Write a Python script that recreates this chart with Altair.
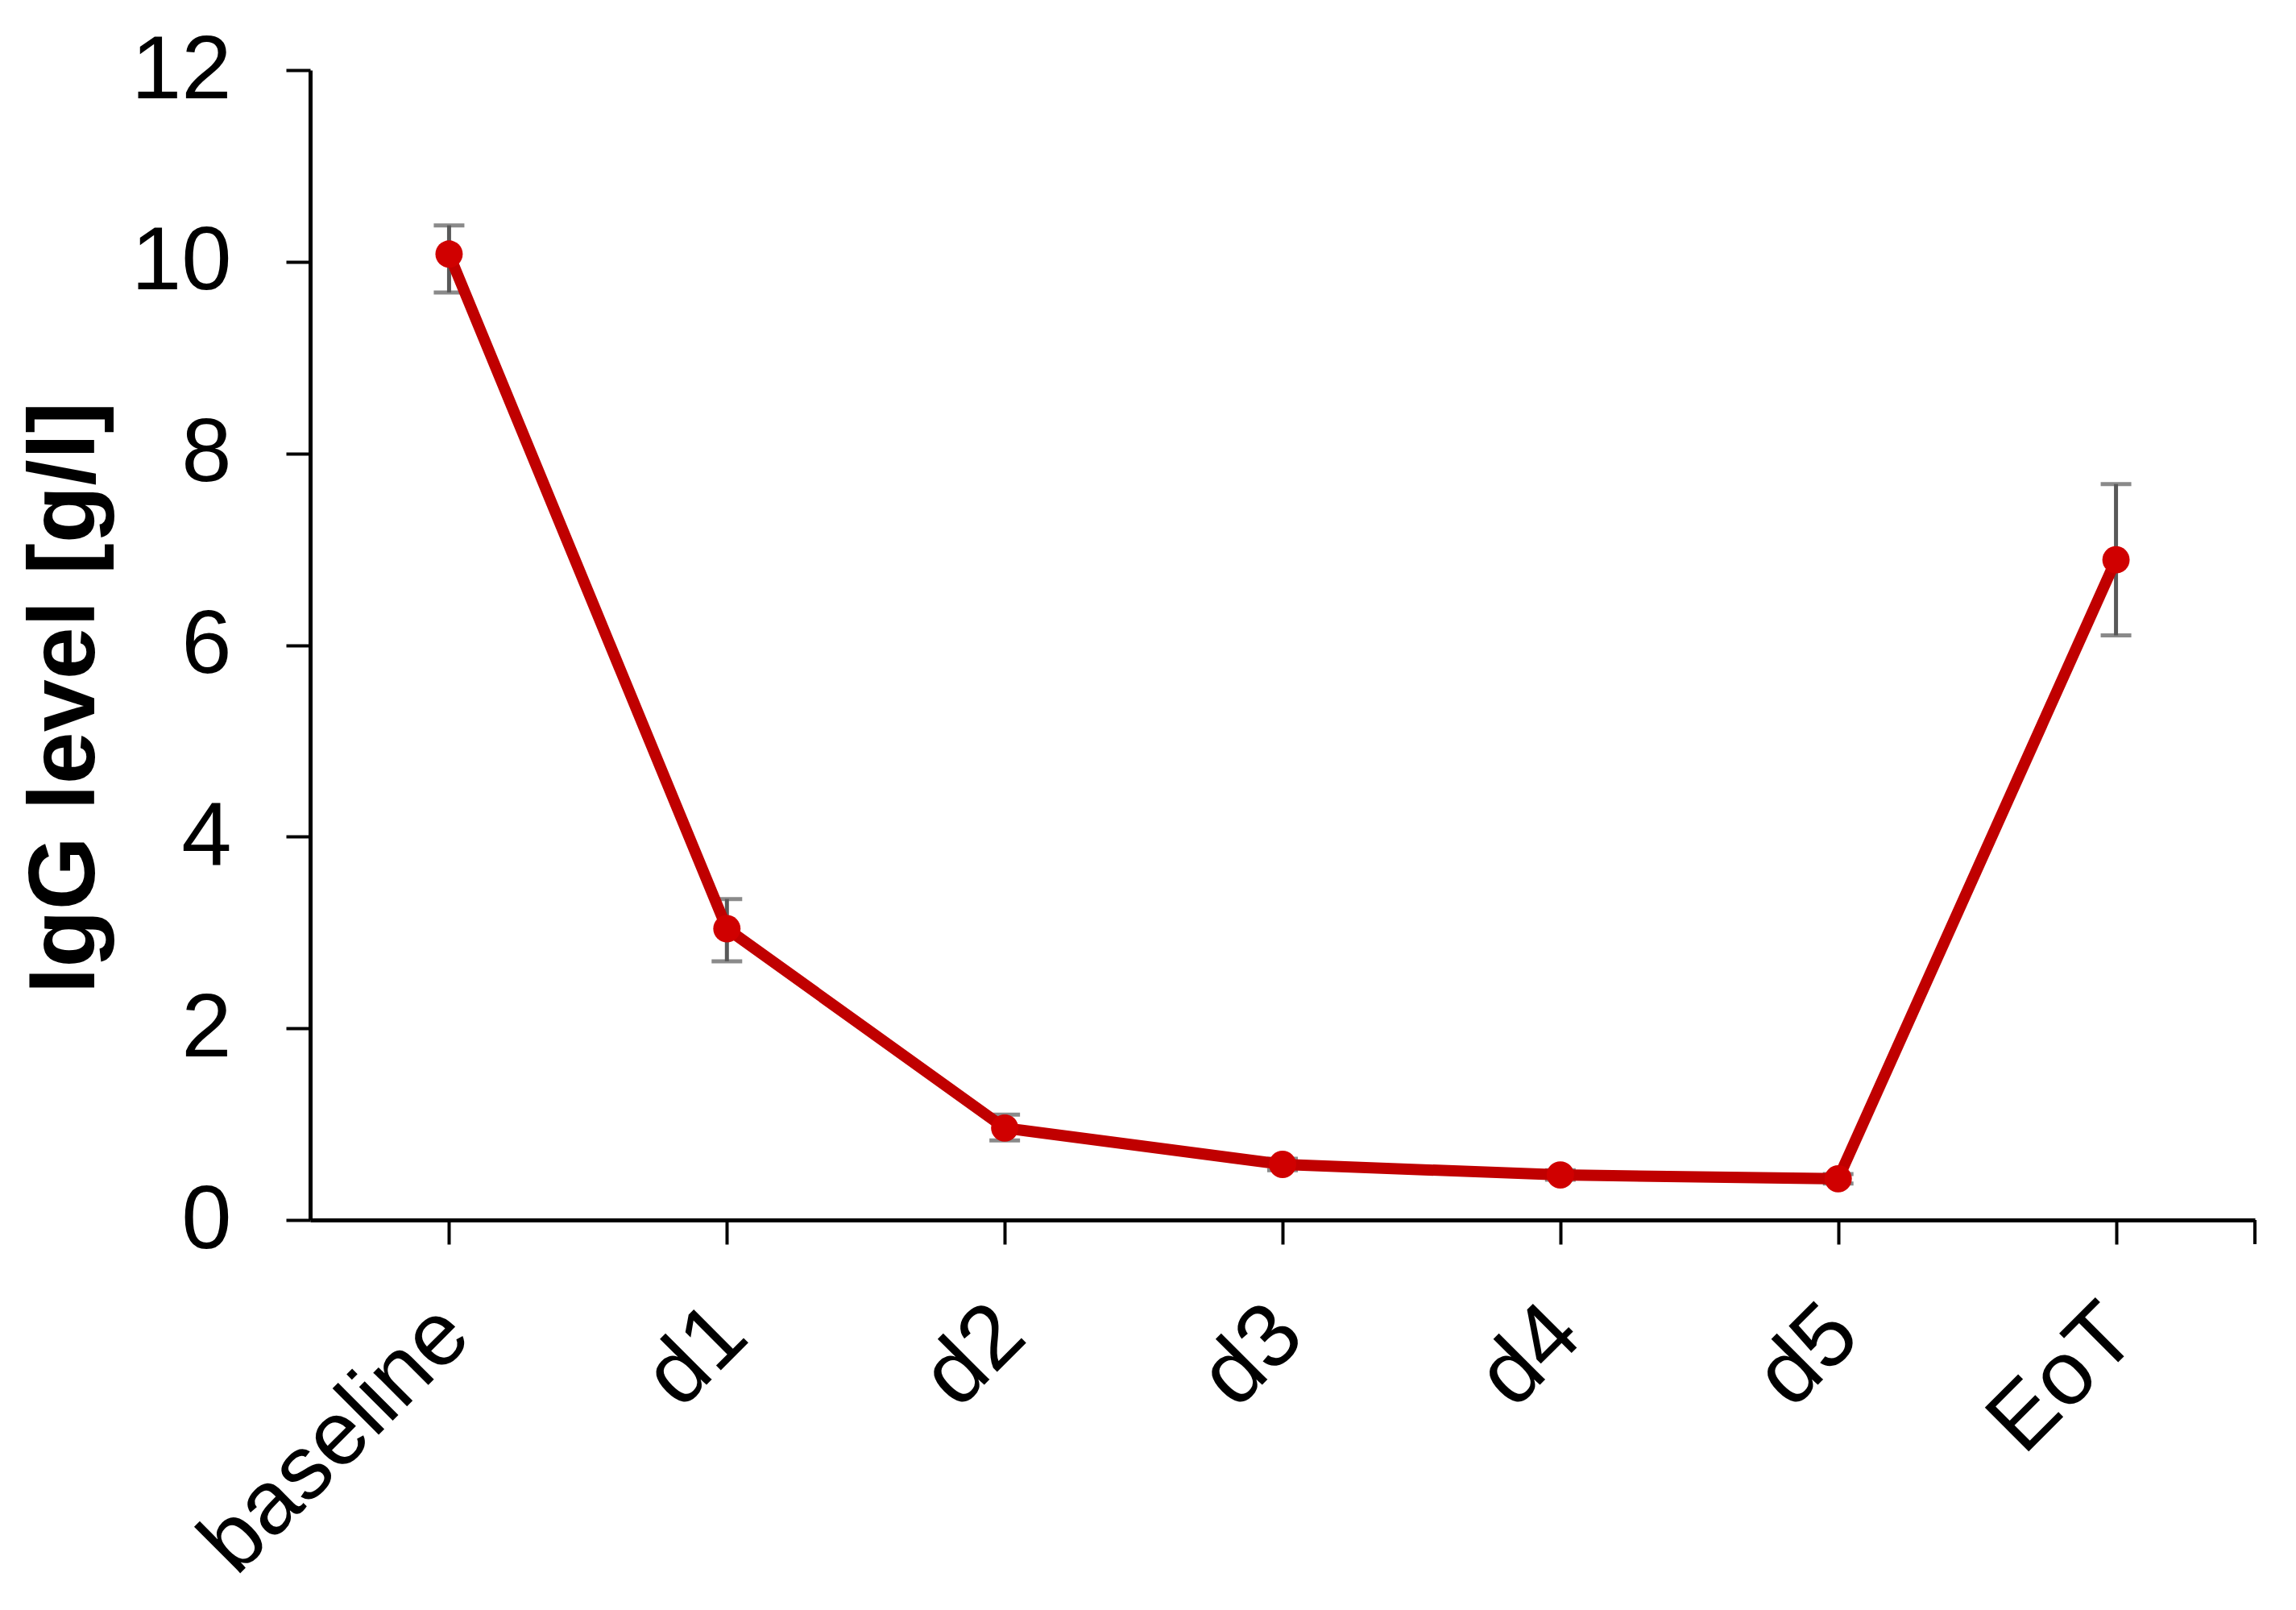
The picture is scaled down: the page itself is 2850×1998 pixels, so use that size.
import altair as alt
import pandas as pd

categories = ["baseline", "d1", "d2", "d3", "d4", "d5", "EoT"]
igg_mean = [10.08, 3.04, 0.96, 0.58, 0.47, 0.43, 6.89]
igg_low = [9.68, 2.70, 0.83, 0.52, 0.42, 0.38, 6.10]
igg_high = [10.38, 3.35, 1.10, 0.64, 0.52, 0.48, 7.68]
y_ticks = [0, 2, 4, 6, 8, 10, 12]

df = pd.DataFrame({"cat": categories, "mean": igg_mean, "low": igg_low, "high": igg_high})

W, H = 2414, 1427
FONT = "Liberation Sans"

x_axis = alt.Axis(
    title=None,
    labelAngle=-45,
    labelAlign="right",
    labelBaseline="middle",
    labelPadding=94,
    labelOffset=6,
)
x_scale = alt.Scale(type="point", padding=0.5)

y_axis = alt.Axis(
    title="IgG level [g/l]",
    titleFont=FONT,
    titleFontSize=117,
    titleFontWeight="bold",
    titleColor="#000000",
    titlePadding=44,
    titleY=H / 2 + 65,
    values=y_ticks,
    format="d",
    labelPadding=68,
)
y_scale = alt.Scale(domain=[0, 12], nice=False, zero=True)


def X():
    return alt.X("cat:N", sort=categories, scale=x_scale, axis=x_axis)


def Y(field):
    return alt.Y(field, type="quantitative", scale=y_scale, axis=y_axis)


base = alt.Chart(df)

stems = base.mark_rule(color="#595959", strokeWidth=5).encode(
    x=X(), y=Y("low"), y2="high:Q"
)
caps_low = base.mark_tick(color="#595959", thickness=5, size=38, orient="horizontal").encode(
    x=X(), y=Y("low")
)
caps_high = base.mark_tick(color="#595959", thickness=5, size=38, orient="horizontal").encode(
    x=X(), y=Y("high")
)
line = base.mark_line(color="#C00000", strokeWidth=14).encode(x=X(), y=Y("mean"))
points = base.mark_point(filled=True, shape="circle", size=1150, color="#D00000", opacity=1).encode(
    x=X(), y=Y("mean")
)
end_tick = alt.Chart(pd.DataFrame({"a": [0]})).mark_rule(color="#000000", strokeWidth=4).encode(
    x=alt.value(W), y=alt.value(H), y2=alt.value(H + 30)
)

chart = (
    alt.layer(stems, caps_low, caps_high, line, points, end_tick)
    .properties(
        width=W,
        height=H,
        autosize=alt.AutoSizeParams(type="none"),
        padding={"left": 377, "top": 79, "right": 43, "bottom": 476},
        view=alt.ViewBackground(stroke="transparent", strokeWidth=0),
    )
    .configure_view(strokeWidth=0, stroke="transparent")
    .configure(background="#ffffff")
    .configure_axis(
        labelFont=FONT,
        labelFontSize=112,
        labelColor="#000000",
        labelLimit=0,
        tickSize=30,
        tickWidth=4,
        tickColor="#000000",
        domainColor="#000000",
        domainWidth=5,
        grid=False,
    )
)

chart.save("out.html", embed_options={"renderer": "svg", "actions": False})
